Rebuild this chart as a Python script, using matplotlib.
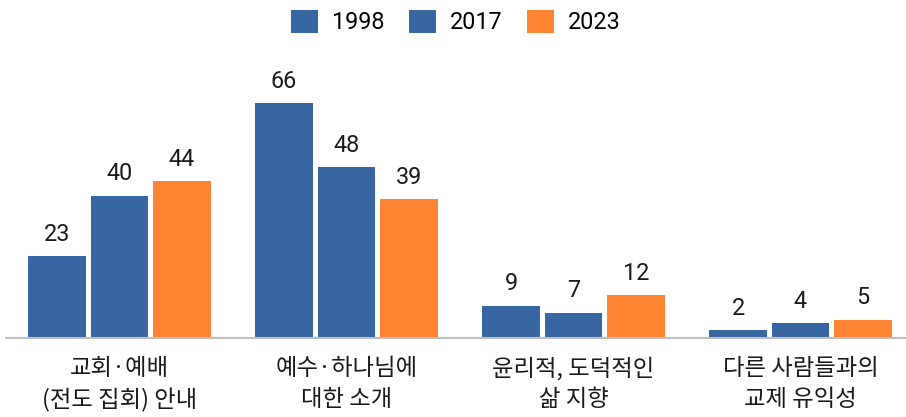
import numpy as np
import matplotlib
matplotlib.use("Agg")
import matplotlib.pyplot as plt

plt.rcParams['font.family'] = ['Roboto', 'Noto Sans CJK KR', 'DejaVu Sans']

categories = ["교회·예배\n(전도 집회) 안내", "예수·하나님에\n대한 소개",
              "윤리적, 도덕적인\n삶 지향", "다른 사람들과의\n교제 유익성"]
years = ["1998", "2017", "2023"]
v1998 = [23, 66, 9, 2]
v2017 = [40, 48, 7, 4]
v2023 = [44, 39, 12, 5]
colors = ["#3866a3", "#3866a3", "#fe8434"]

W, H = 906, 417
fig = plt.figure(figsize=(W / 100, H / 100), dpi=100)
base = 337.5
top = 60
ax = fig.add_axes([6 / W, (H - base) / H, (W - 6) / W, (base - top) / H])

x = np.arange(len(categories))
offsets = [-0.275, 0.0, 0.275]
width = 0.253
for vals, off, col, yr in zip([v1998, v2017, v2023], offsets, colors, years):
    bars = ax.bar(x + off, vals, width, color=col, label=yr, zorder=2)
    for b, v in zip(bars, vals):
        ax.annotate(str(v), (b.get_x() + b.get_width() / 2, v),
                    xytext=(0, 11), textcoords="offset points",
                    ha="center", va="baseline", fontsize=16.8, color="#1a1a1a")

ax.set_xlim(-0.5, -0.5 + (W - 6) / 227)
ax.set_ylim(0, (base - top) / 3.55)
for s in ["top", "right", "left"]:
    ax.spines[s].set_visible(False)
ax.spines["bottom"].set_color("#bfbfbf")
ax.spines["bottom"].set_linewidth(1.5)
ax.set_yticks([])
ax.set_xticks(x)
ax.set_xticklabels(categories, fontsize=16.8, linespacing=1.42, color="#1a1a1a",
                   family=['Noto Sans CJK KR', 'DejaVu Sans'])
ax.tick_params(axis="x", length=0, pad=14)

fig.legend(loc="center", bbox_to_anchor=(456 / W, 1 - 22 / H), ncol=3, frameon=False,
           fontsize=16.8, handlelength=1.15, handleheight=1.15, handletextpad=0.6,
           columnspacing=1.05, borderpad=0)

fig.savefig("out.png", dpi=100)
